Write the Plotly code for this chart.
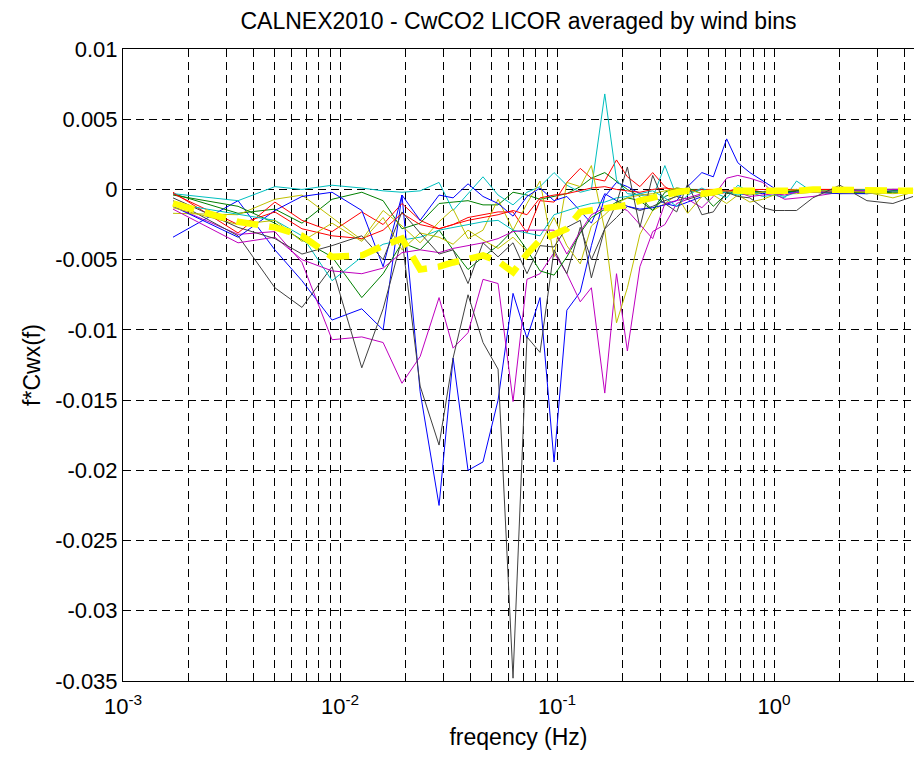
import plotly.graph_objects as go

# frequencies (Hz)
freq = [0.00170, 0.00339, 0.00501, 0.00668, 0.00919, 0.0126, 0.0158, 0.0193, 0.0234, 0.0286,
        0.0332, 0.0389, 0.0456, 0.0535, 0.0627, 0.0727, 0.0835, 0.0969, 0.111, 0.128,
        0.144, 0.166, 0.188, 0.211, 0.241, 0.276, 0.314, 0.356, 0.400, 0.465,
        0.525, 0.605, 0.681, 0.774, 0.888, 1.00, 1.12, 1.27, 1.51, 2.01,
        2.68, 3.53, 4.37]

# f*Cwx(f) per wind bin
b1 = [-0.0034, -0.0008, -0.0043, -0.0065, -0.0093, -0.0085, -0.0100, -0.0004, -0.0144, -0.0225,
      -0.0120, -0.0200, -0.0194, -0.0150, -0.0074, -0.0106, -0.0077, -0.0194, -0.0086, -0.0073,
      -0.0040, -0.0005, 0.0005, 0.0002, -0.0003, -0.0005, -0.0010, -0.0012, -0.0009, -0.0005,
      -0.0002, -0.0001, -0.0002, -0.0002, -0.0003, -0.0001, -0.0001, 0.0000, -0.0001, -0.0001,
      0.0000, 0.0000, 0.0000]
g1 = [-0.0003, -0.0017, -0.0014, -0.0024, -0.0007, -0.0002, -0.0008, -0.0028, -0.0024, -0.0010,
      -0.0009, -0.0008, -0.0011, -0.0011, -0.0002, -0.0004, -0.0007, -0.0005, -0.0003, 0.0002,
      0.0008, 0.0012, 0.0006, 0.0000, -0.0005, -0.0015, -0.0002, 0.0001, 0.0000, 0.0000,
      -0.0001, -0.0002, -0.0001, -0.0001, -0.0002, -0.0001, -0.0002, -0.0001, -0.0002, -0.0002,
      -0.0003, -0.0002, -0.0002]
r1 = [-0.0002, -0.0031, -0.0009, -0.0022, -0.0030, -0.0016, -0.0025, -0.0010, -0.0022, -0.0028,
      -0.0025, -0.0020, -0.0018, -0.0016, -0.0016, -0.0031, -0.0008, -0.0009, 0.0005, 0.0015,
      0.0008, 0.0006, 0.0021, 0.0009, 0.0002, 0.0012, 0.0002, -0.0003, -0.0002, 0.0000,
      -0.0004, -0.0002, 0.0001, 0.0000, -0.0002, -0.0001, 0.0000, -0.0001, 0.0000, 0.0000,
      0.0000, 0.0000, 0.0000]
c1 = [-0.0003, -0.0008, 0.0002, 0.0000, 0.0003, 0.0001, -0.0001, -0.0002, -0.0001, 0.0005,
      -0.0015, -0.0003, 0.0009, -0.0004, -0.0011, -0.0002, 0.0002, 0.0012, 0.0003, -0.0002,
      0.0000, 0.0068, 0.0007, -0.0003, -0.0004, -0.0006, 0.0017, -0.0005, -0.0002, 0.0000,
      -0.0002, -0.0006, 0.0003, -0.0002, -0.0005, -0.0004, -0.0006, 0.0006, -0.0002, -0.0001,
      -0.0001, 0.0000, -0.0001]
m1 = [-0.0012, -0.0032, -0.0030, -0.0052, -0.0107, -0.0105, -0.0109, -0.0138, -0.0119, -0.0077,
      -0.0113, -0.0102, -0.0064, -0.0067, -0.0151, -0.0064, -0.0060, -0.0045, -0.0060, -0.0080,
      -0.0070, -0.0145, -0.0060, -0.0115, -0.0055, -0.0030, -0.0025, -0.0010, -0.0007, -0.0013,
      -0.0005, 0.0008, 0.0010, 0.0008, 0.0005, -0.0003, -0.0007, -0.0006, -0.0005, -0.0002,
      -0.0001, 0.0000, 0.0000]
y1 = [-0.0017, -0.0018, -0.0007, -0.0004, -0.0020, -0.0036, -0.0015, -0.0026, -0.0038, -0.0023,
      -0.0014, -0.0035, -0.0029, -0.0007, -0.0029, -0.0010, 0.0006, -0.0048, 0.0005, 0.0002,
      0.0017, -0.0029, -0.0095, -0.0070, -0.0032, -0.0015, -0.0010, -0.0004, -0.0017, -0.0005,
      -0.0004, -0.0010, -0.0004, -0.0009, -0.0007, -0.0004, -0.0003, -0.0003, -0.0002, -0.0003,
      -0.0002, -0.0006, -0.0002]
k1 = [-0.0008, -0.0033, -0.0070, -0.0084, -0.0055, -0.0127, -0.0085, -0.0035, -0.0140, -0.0182,
      -0.0120, -0.0075, -0.0109, -0.0128, -0.0348, -0.0105, -0.0116, -0.0043, -0.0060, -0.0027,
      -0.0050, -0.0028, -0.0020, -0.0012, -0.0015, -0.0012, -0.0008, -0.0005, -0.0007, -0.0004,
      -0.0003, -0.0002, -0.0001, -0.0003, -0.0002, -0.0001, -0.0002, -0.0001, 0.0000, -0.0001,
      0.0000, 0.0000, 0.0000]
b2 = [-0.0012, -0.0034, -0.0015, -0.0005, -0.0002, -0.0015, -0.0055, -0.0004, -0.0022, -0.0004,
      -0.0006, 0.0004, -0.0005, -0.0010, -0.0019, -0.0005, 0.0001, -0.0008, -0.0005, -0.0015,
      -0.0024, -0.0003, -0.0008, -0.0012, -0.0014, -0.0013, -0.0011, -0.0008, 0.0002, 0.0012,
      0.0009, 0.0036, 0.0019, 0.0012, 0.0006, 0.0001, -0.0002, -0.0002, -0.0002, -0.0003,
      -0.0003, -0.0001, -0.0001]
g2 = [-0.0004, -0.0012, -0.0024, -0.0036, -0.0048, -0.0077, -0.0060, -0.0038, -0.0043, -0.0029,
      -0.0043, -0.0057, -0.0048, -0.0040, -0.0029, -0.0043, -0.0058, -0.0061, -0.0048, -0.0031,
      -0.0020, -0.0014, -0.0009, -0.0006, -0.0008, -0.0015, -0.0005, -0.0002, 0.0001, -0.0003,
      -0.0012, -0.0003, -0.0002, -0.0001, -0.0002, -0.0001, -0.0002, -0.0001, -0.0001, -0.0002,
      -0.0002, -0.0001, -0.0001]
r2 = [-0.0003, -0.0025, -0.0016, -0.0028, -0.0033, -0.0035, -0.0029, -0.0017, -0.0025, -0.0028,
      -0.0025, -0.0022, -0.0020, -0.0018, -0.0015, -0.0018, -0.0006, -0.0004, -0.0003, -0.0001,
      0.0001, 0.0002, 0.0000, -0.0001, -0.0002, 0.0000, 0.0001, 0.0000, -0.0001, 0.0000,
      0.0000, -0.0001, 0.0000, 0.0000, 0.0000, -0.0001, 0.0000, 0.0000, 0.0000, 0.0000,
      0.0000, 0.0000, 0.0000]
c2 = [-0.0010, -0.0018, -0.0022, -0.0033, -0.0065, -0.0048, -0.0039, -0.0036, -0.0034, -0.0029,
      -0.0027, -0.0025, -0.0023, -0.0022, -0.0029, -0.0031, -0.0033, -0.0018, -0.0015, -0.0012,
      -0.0010, -0.0009, -0.0006, -0.0005, -0.0003, -0.0001, -0.0006, -0.0012, -0.0004, 0.0001,
      -0.0003, -0.0002, -0.0004, -0.0003, -0.0002, -0.0003, -0.0005, -0.0002, -0.0001, -0.0001,
      0.0000, 0.0000, -0.0001]
m2 = [-0.0014, -0.0038, -0.0034, -0.0050, -0.0058, -0.0060, -0.0056, -0.0045, -0.0043, -0.0045,
      -0.0042, -0.0040, -0.0038, -0.0035, -0.0030, -0.0029, -0.0029, -0.0029, -0.0046, -0.0030,
      -0.0018, -0.0013, -0.0012, -0.0015, -0.0025, -0.0035, -0.0010, -0.0008, -0.0006, -0.0003,
      -0.0002, -0.0001, -0.0002, -0.0005, -0.0004, -0.0003, -0.0004, -0.0002, -0.0002, -0.0001,
      -0.0001, 0.0000, 0.0000]
y2 = [-0.0013, -0.0025, -0.0022, -0.0037, -0.0024, -0.0037, -0.0020, -0.0043, -0.0031, -0.0034,
      -0.0039, -0.0029, -0.0036, -0.0042, -0.0034, -0.0044, -0.0039, -0.0020, -0.0040, -0.0053,
      -0.0026, -0.0018, -0.0010, -0.0006, -0.0004, -0.0003, -0.0001, 0.0001, 0.0000, -0.0003,
      -0.0002, -0.0001, -0.0002, -0.0004, -0.0002, -0.0001, -0.0001, 0.0000, -0.0001, -0.0001,
      -0.0002, -0.0003, -0.0002]
k2 = [-0.0006, -0.0027, -0.0035, -0.0046, -0.0040, -0.0033, -0.0050, -0.0016, -0.0031, -0.0046,
      -0.0043, -0.0067, -0.0038, -0.0048, -0.0038, -0.0060, -0.0040, -0.0041, -0.0027, -0.0022,
      -0.0063, -0.0028, -0.0010, 0.0016, -0.0027, 0.0010, -0.0010, -0.0016, 0.0004, -0.0018,
      -0.0016, -0.0002, -0.0005, -0.0006, -0.0013, -0.0015, -0.0015, -0.0015, -0.0006, 0.0003,
      -0.0008, -0.0010, -0.0005]
mean = [-0.0010, -0.0023, -0.0027, -0.0033, -0.0048, -0.0047, -0.0040, -0.0035, -0.0057, -0.0055,
        -0.0052, -0.0049, -0.0047, -0.0051, -0.0059, -0.0046, -0.0036, -0.0032, -0.0028, -0.0016,
        -0.0015, -0.0014, -0.0013, -0.0011, -0.0008, -0.0006, -0.0003, -0.0002, -0.0001, -0.0003,
        -0.0002, 0.0000, -0.0001, -0.0001, -0.0001, -0.0002, -0.0001, -0.0001, 0.0000, 0.0000,
        -0.0001, -0.0001, -0.0001]

series = [b1, g1, r1, c1, m1, y1, k1, b2, g2, r2, c2, m2, y2, k2]
colors = ["#0000FF", "#008000", "#FF0000", "#00BFBF", "#BF00BF", "#BFBF00", "#404040"] * 2

y_ticks = [0.01, 0.005, 0, -0.005, -0.01, -0.015, -0.02, -0.025, -0.03, -0.035]
y_tick_text = ["0.01", "0.005", "0", "-0.005", "-0.01", "-0.015", "-0.02", "-0.025", "-0.03", "-0.035"]
x_ticks = [0.001, 0.01, 0.1, 1]
x_tick_text = ["10<sup>-3</sup>", "10<sup>-2</sup>", "10<sup>-1</sup>", "10<sup>0</sup>"]
x_minor = [m * d for d in (0.001, 0.01, 0.1, 1) for m in range(2, 10)]

fig = go.Figure()
for s, c in zip(series, colors):
    fig.add_trace(go.Scatter(x=freq, y=s, mode="lines", line=dict(color=c, width=1)))
fig.add_trace(go.Scatter(x=freq, y=mean, mode="lines",
                         line=dict(color="#FFFF00", width=6.5, dash="22px,11px")))

font = "Liberation Sans, Arial, Helvetica, sans-serif"
fig.update_layout(
    width=914, height=757,
    margin=dict(l=123, r=0, t=49, b=76),
    paper_bgcolor="white", plot_bgcolor="white",
    showlegend=False,
    font=dict(family=font, size=19, color="black"),
    title=dict(text="CALNEX2010 - CwCO2 LICOR averaged by wind bins",
               x=(123 + 914) / 2 / 914, xanchor="center", y=1 - 21 / 757, yanchor="middle",
               font=dict(size=23)),
)
fig.update_xaxes(
    type="log", range=[-3, 0.645],
    tickvals=x_ticks, ticktext=x_tick_text,
    ticks="inside", ticklen=7, tickcolor="black",
    ticklabelstandoff=6,
    showline=True, linecolor="black", linewidth=1, mirror=True,
    showgrid=True, gridcolor="black", gridwidth=1, griddash="8px,5px",
    minor=dict(tickvals=x_minor, ticks="inside", ticklen=4, tickcolor="black",
               showgrid=True, gridcolor="black", gridwidth=1, griddash="8px,5px"),
    zeroline=False,
    title=dict(text="freqency (Hz)", standoff=10, font=dict(size=23)),
    tickfont=dict(size=22),
)
fig.update_yaxes(
    range=[-0.035, 0.01],
    tickvals=y_ticks, ticktext=y_tick_text,
    ticks="inside", ticklen=7, tickcolor="black",
    showline=True, linecolor="black", linewidth=1, mirror=False,
    showgrid=True, gridcolor="black", gridwidth=1, griddash="8px,5px",
    zeroline=False,
    title=dict(text="f*Cwx(f)", standoff=8, font=dict(size=23)),
    tickfont=dict(size=22),
)
fig.write_html("out.html")
